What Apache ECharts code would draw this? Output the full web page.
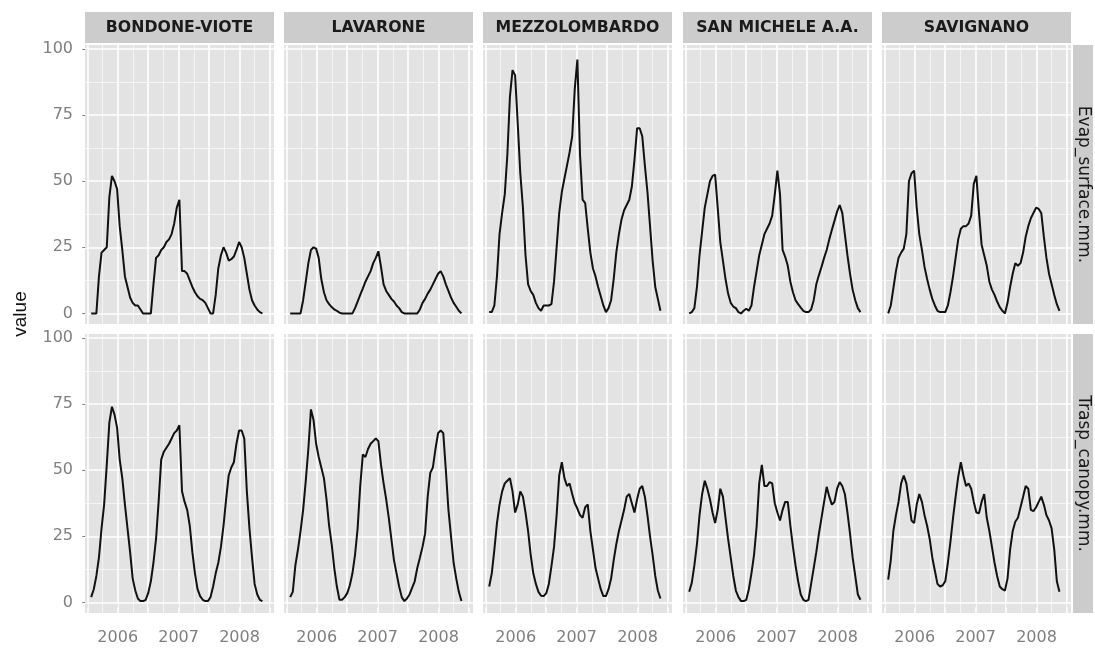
<!DOCTYPE html>
<html><head><meta charset="utf-8">
<script src="https://cdn.jsdelivr.net/npm/echarts@6/dist/echarts.min.js"></script>
<style>html,body{margin:0;padding:0;background:#fff}#c{width:1095px;height:650px}</style>
</head><body><div id="c"></div>
<script>
const stations = ['BONDONE-VIOTE', 'LAVARONE', 'MEZZOLOMBARDO', 'SAN MICHELE A.A.', 'SAVIGNANO'];
const variables = ['Evap_surface.mm.', 'Trasp_canopy.mm.'];

// time in months since Jan 2006
const months = [0.77,1.28,1.79,2.30,2.81,3.32,3.84,4.35,4.86,5.37,
  5.88,6.39,6.90,7.42,7.93,8.44,8.95,9.46,9.97,10.48,
  10.99,11.51,12.02,12.53,13.04,13.55,14.06,14.57,15.09,15.60,
  16.11,16.62,17.13,17.64,18.15,18.67,19.18,19.69,20.20,20.71,
  21.22,21.73,22.24,22.76,23.27,23.78,24.29,24.80,25.31,25.82,
  26.34,26.85,27.36,27.87,28.38,28.89,29.40,29.92,30.43,30.94,
  31.45,31.96,32.47,32.98,33.50,34.01,34.52];

const evapBondone = [0,0,0,14,23,24,25,44,52,50, 47,33,24,14,10,6,4,3,3,1.5, 0,0,0,0,11,21,22,24,25,27, 28,30,34,40,43,16,16,15,12.5,10, 8,6.5,5.5,5,4,2,0,0,7,17, 22,25,23,20,20.5,21.5,24,27,25,21, 15,9,5,3,1.5,0.5,0];
const evapLavarone = [0,0,0,0,0,5,12,19,24,25, 24.5,21,13,8,5,3.5,2.4,1.5,1,0.3, 0,0,0,0,0,2,4.5,7,9.5,12, 14,16,19,21,23.5,17.6,11,8.5,7,5.5, 4.5,3,2,0.5,0,0,0,0,0,0, 1.5,4,5.5,7.5,9,11,13,15,16,14, 11,8.5,6,4,2.5,1,0];
const evapMezzolombardo = [0.5,0.5,3,14,30,38,45,60,82,92, 90,72,53,40,22,11,8.5,7,4,2, 1,3,3,3,3.5,12,25,38,46,51, 56,61,67,85,96,60,43,41.7,32,23, 17,14,10,6.5,3,0.5,2,5,13,23, 30,35.5,39,41,43,48,58,70,70,67, 56,46,33,20,10,5.5,1];
const evapSanMichele = [0,0.5,2,10,22,31,40,45,50,52, 52.5,40,27,20,13,7.5,4,2.6,2,0.5, 0,1,1.8,1,3,10,16,22,26,30, 32,34,37,45,54,45,24,21.4,18,12, 8,5,3.5,2.2,1,0.5,0.5,1.5,5,11, 14.5,17.6,21,24,28,31.6,35,38.5,41,38, 30,22,15,9,5,2,0.5];
const evapSavignano = [0,3,9.5,16,21,23,24.5,30,50,53, 54,40,30,24,17.6,13,9,5.5,3,1, 0.5,0.5,0.5,3,8,14,21,28,32,33, 33,34,37,49,52,38,26,22,18,12, 9,7,4.5,2.4,1,0,4,10,15,19, 18,19,23,29,33,36,38,40,39.5,38, 29,21,15,11,7,3.5,1];

const traspBondone = [2,5,10,17,28,37,52,68,74,71, 66,54,47,37,28,19,9,4.5,1.5,0.5, 0.5,1,3.6,8,15,24,38,54,57,58.5, 60,62,64,65,67,42,38,35,29,19, 11,5,2.4,1,0.5,0.5,2,6,11,15, 21,29,39,48,51,53,60,65,65,62, 42,28,17,7,3,1,0.5];
const traspLavarone = [2,4,14,20,27,35,46,58,73,69, 60,55,51,47,39,29,22,13,6,1, 1,2,3.5,6.5,11,18,28,44,56,55, 58,60,61,62,61,52,45,39,32,24, 16,11,6,2,0.5,1.5,3,5.5,8,13, 17,21,26,40,49,51,58,64,65,64, 50,35,25,15,9,4,0.5];
const traspMezzolombardo = [6,11,20,30,37,42,45,46,47,42, 34,37,42,40,34,27,18,11,7,4, 2.5,2.4,3.5,7,13.7,21,33,48,53,47, 44,45,41,37.5,35.5,33,32,36,37,27, 20,13,9,5,2.4,2.4,5,9,16,22, 27,31,35,40,41,37.5,34,39,43,44, 40,33,25,18,10,4.5,1.5];
const traspSanMichele = [4,7.4,14,22,33,41,46,43,39,34, 30,35,43,40,32,24,17,10,4.5,2, 0.5,0.5,1,5,11,18,28.7,45,52,44, 44,45.5,45,37.5,34,31,35,38,38,29, 21,14,8,3,1,0.5,1,7,13,19, 26,32,38,43.7,40,37,38,43,45.5,44, 41,34,26,17,10,3,1];
const traspSavignano = [8.6,16,27,33,38,45,48,45,38,31, 30,37,41,38,33,29,24,17,12,7, 6,6.5,8,15,23,32,40,47.5,53,48, 44,45,43,38,34,33.7,38,41,32,27, 21,15,10,6,5,4.5,9,20,27,30.5, 32,36,40,44,43,35,34.5,36,38,40, 37,33,31,28,20,8,4];

const yTickValues = [0, 25, 50, 75, 100];
const yMinorValues = [12.5, 37.5, 62.5, 87.5];
const xTickValues = [0, 6, 12, 18, 24, 30, 36];
const xMinorValues = [3, 9, 15, 21, 27, 33];
const yearTickValues = [6, 18, 30];
const yearLabels = ['2006', '2007', '2008'];

const panelValues = [
  [evapBondone, evapLavarone, evapMezzolombardo, evapSanMichele, evapSavignano],
  [traspBondone, traspLavarone, traspMezzolombardo, traspSanMichele, traspSavignano]
];

// layout
const colLeft = [85, 284, 483, 683, 882];
const colWidth = 189;
const rowTop = [45, 334];
const rowHeight = 279;
const stripTop = 12, stripHeight = 31;
const rightStripX = 1073, rightStripW = 20;

const tickColor = '#7f7f7f';
const labelFont = 'DejaVu Sans';

const grids = [], xAxes = [], yAxes = [], series = [];
const majorLine = { color: '#ffffff', width: 1.6, type: 'solid' };
const minorLine = { color: '#f6f6f6', width: 0.9, type: 'solid' };

for (let r = 0; r < 2; r++) {
  for (let c = 0; c < 5; c++) {
    const idx = grids.length;
    grids.push({
      left: colLeft[c], top: rowTop[r], width: colWidth, height: rowHeight,
      show: true, backgroundColor: '#e3e3e3', borderWidth: 0, containLabel: false
    });
    const bottom = r === 1;
    const leftCol = c === 0;
    xAxes.push({
      type: 'value', gridIndex: idx, min: -0.45, max: 36.8,
      axisLine: { show: false },
      splitLine: { show: false },
      axisTick: { show: bottom, customValues: xTickValues, length: 5, lineStyle: { color: tickColor, width: 1 } },
      axisLabel: {
        show: bottom, customValues: yearTickValues, margin: 17,
        color: tickColor, fontSize: 16, fontFamily: labelFont,
        formatter: v => yearLabels[yearTickValues.indexOf(v)] || ''
      }
    });
    yAxes.push({
      type: 'value', gridIndex: idx, min: -4, max: 101.5,
      axisLine: { show: false },
      splitLine: { show: false },
      axisTick: { show: leftCol, customValues: yTickValues, length: 5, lineStyle: { color: tickColor, width: 1 } },
      axisLabel: {
        show: leftCol, customValues: yTickValues, margin: 12,
        color: tickColor, fontSize: 16, fontFamily: labelFont
      }
    });
    const vals = panelValues[r][c];
    const gridMarks = []
      .concat(yMinorValues.map(v => ({ yAxis: v, lineStyle: minorLine })))
      .concat(xMinorValues.map(v => ({ xAxis: v, lineStyle: minorLine })))
      .concat(yTickValues.map(v => ({ yAxis: v, lineStyle: majorLine })))
      .concat(xTickValues.map(v => ({ xAxis: v, lineStyle: majorLine })));
    series.push({
      type: 'line', xAxisIndex: idx, yAxisIndex: idx,
      data: months.map((m, i) => [m, vals[i]]),
      showSymbol: false, symbol: 'none', z: 3,
      lineStyle: { color: '#111111', width: 2 },
      silent: true,
      markLine: {
        silent: true, symbol: ['none', 'none'], z: 1, animation: false,
        label: { show: false },
        emphasis: { disabled: true },
        data: gridMarks
      }
    });
  }
}

const graphics = [];
for (let c = 0; c < 5; c++) {
  graphics.push({
    type: 'rect', shape: { x: colLeft[c], y: stripTop, width: colWidth, height: stripHeight },
    style: { fill: '#cccccc' }, z: 1
  });
  graphics.push({
    type: 'text', x: colLeft[c] + colWidth / 2, y: stripTop + stripHeight / 2 + 1, scaleX: 1.05, z: 2,
    style: { text: stations[c], fill: '#1a1a1a', fontSize: 15, fontWeight: 'bold', fontFamily: labelFont,
      align: 'center', verticalAlign: 'middle', textAlign: 'center', textVerticalAlign: 'middle' }
  });
}
for (let r = 0; r < 2; r++) {
  graphics.push({
    type: 'rect', shape: { x: rightStripX, y: rowTop[r], width: rightStripW, height: rowHeight },
    style: { fill: '#cccccc' }, z: 1
  });
  graphics.push({
    type: 'text', x: rightStripX + rightStripW / 2, y: rowTop[r] + rowHeight / 2, rotation: -Math.PI / 2, z: 2,
    style: { text: variables[r], fill: '#1a1a1a', fontSize: 17, fontFamily: labelFont,
      align: 'center', verticalAlign: 'middle', textAlign: 'center', textVerticalAlign: 'middle' }
  });
}
graphics.push({
  type: 'text', x: 21, y: 314, rotation: Math.PI / 2, z: 2,
  style: { text: 'value', fill: '#111', fontSize: 19, fontFamily: 'Liberation Sans',
    align: 'center', verticalAlign: 'middle', textAlign: 'center', textVerticalAlign: 'middle' }
});

const chart = echarts.init(document.getElementById('c'), null, { renderer: 'canvas' });
chart.setOption({
  animation: false,
  backgroundColor: '#ffffff',
  grid: grids, xAxis: xAxes, yAxis: yAxes, series: series,
  graphic: { elements: graphics }
});
</script></body></html>
